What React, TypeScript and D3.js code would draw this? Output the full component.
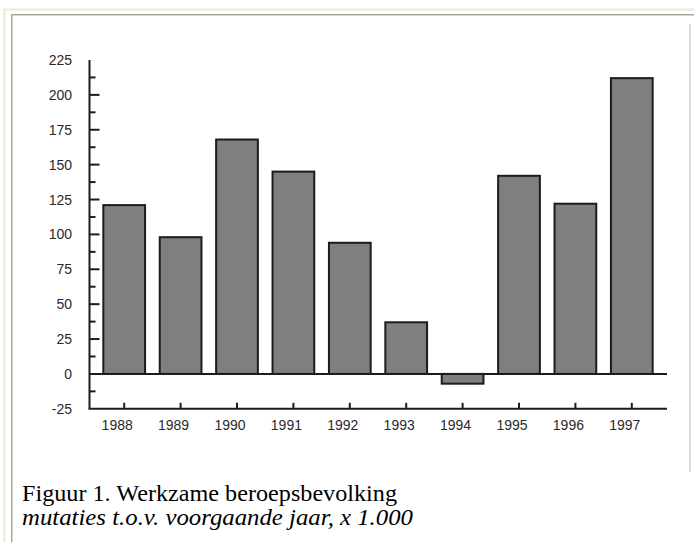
import React from "react";
import * as d3 from "d3";

const years = ["1988", "1989", "1990", "1991", "1992", "1993", "1994", "1995", "1996", "1997"];
const values = [121, 98, 168, 145, 94, 37, -7, 142, 122, 212];
const yTickValues = [-25, 0, 25, 50, 75, 100, 125, 150, 175, 200, 225];
const yMinorValues = [-12.5, 12.5, 37.5, 62.5, 87.5, 112.5, 137.5, 162.5, 187.5, 212.5];
const captionTitle = "Figuur 1. Werkzame beroepsbevolking";
const captionSub = "mutaties t.o.v. voorgaande jaar, x 1.000";

export default function App() {
  const W = 694;
  const H = 542;
  const axisX = 89.5;
  const rightX = 667;

  const y = d3.scaleLinear().domain([-25, 225]).range([408.8, 60]);
  const x = d3.scaleBand<string>().domain(years).range([96, 660]).paddingInner(0.26).paddingOuter(0.13);

  const axisFont = "Liberation Sans, Arial, sans-serif";
  const serifFont = "Liberation Serif, Times New Roman, serif";
  const ink = "#1c1c1c";

  return (
    <svg
      width={W}
      height={H}
      viewBox={`0 0 ${W} ${H}`}
      style={{ position: "absolute", left: 0, top: 0, background: "#fff" }}
    >
      {/* window frame */}
      <line x1={3} x2={W} y1={9.5} y2={9.5} stroke="#ece9d8" strokeWidth={2} />
      <line x1={4.5} x2={4.5} y1={9} y2={H} stroke="#ece9d8" strokeWidth={2} />
      <line x1={11} x2={W} y1={14.5} y2={14.5} stroke="#a7a596" strokeWidth={1} />
      <line x1={11} x2={W} y1={15.5} y2={15.5} stroke="#d8d6cc" strokeWidth={1} />
      <line x1={11.5} x2={11.5} y1={14} y2={H} stroke="#a7a596" strokeWidth={1} />
      <line x1={12.5} x2={12.5} y1={15} y2={H} stroke="#d8d6cc" strokeWidth={1} />
      <line x1={690} x2={690} y1={24} y2={472} stroke="#dcdcdc" strokeWidth={2} />

      {/* bars */}
      {years.map((yr, i) => {
        const v = values[i];
        const top = y(Math.max(0, v));
        const bot = y(Math.min(0, v));
        return (
          <rect
            key={yr}
            x={x(yr)!}
            y={top}
            width={x.bandwidth()}
            height={bot - top}
            fill="#7f7f7f"
            stroke={ink}
            strokeWidth={2}
          />
        );
      })}

      {/* y axis */}
      <line x1={axisX} x2={axisX} y1={y(225)} y2={y(-25)} stroke={ink} strokeWidth={2} />
      {yTickValues
        .filter((t) => t !== 225 && t !== 0 && t !== -25)
        .map((t) => (
          <line key={"M" + t} x1={axisX} x2={axisX + 10} y1={y(t)} y2={y(t)} stroke={ink} strokeWidth={2} />
        ))}
      {yMinorValues.map((t) => (
        <line key={"m" + t} x1={axisX} x2={axisX + 6} y1={y(t)} y2={y(t)} stroke={ink} strokeWidth={2} />
      ))}
      {yTickValues.map((t) => (
        <text
          key={"l" + t}
          x={72}
          y={y(t)}
          dy="0.36em"
          textAnchor="end"
          fontFamily={axisFont}
          fontSize={14}
          fill="#2a2a2a"
        >
          {t}
        </text>
      ))}

      {/* zero line */}
      <line x1={axisX} x2={rightX} y1={y(0)} y2={y(0)} stroke={ink} strokeWidth={2} />

      {/* bottom axis */}
      <line x1={axisX - 1} x2={rightX} y1={y(-25)} y2={y(-25)} stroke={ink} strokeWidth={2} />
      {years.map((yr) => {
        const cx = x(yr)! + x.bandwidth() / 2;
        return (
          <g key={"x" + yr}>
            <line x1={cx} x2={cx} y1={y(-25)} y2={y(-25) - 6} stroke={ink} strokeWidth={2} />
            <text
              x={cx - 7}
              y={429.5}
              textAnchor="middle"
              fontFamily={axisFont}
              fontSize={14}
              fill="#2a2a2a"
            >
              {yr}
            </text>
          </g>
        );
      })}

      {/* caption */}
      <text
        x={22}
        y={501}
        fontFamily={serifFont}
        fontSize={22.5}
        fill="#000"
        textLength={375}
        lengthAdjust="spacingAndGlyphs"
      >
        {captionTitle}
      </text>
      <text
        x={22}
        y={525}
        fontFamily={serifFont}
        fontSize={22.5}
        fontStyle="italic"
        fill="#000"
        textLength={391}
        lengthAdjust="spacingAndGlyphs"
      >
        {captionSub}
      </text>
    </svg>
  );
}
